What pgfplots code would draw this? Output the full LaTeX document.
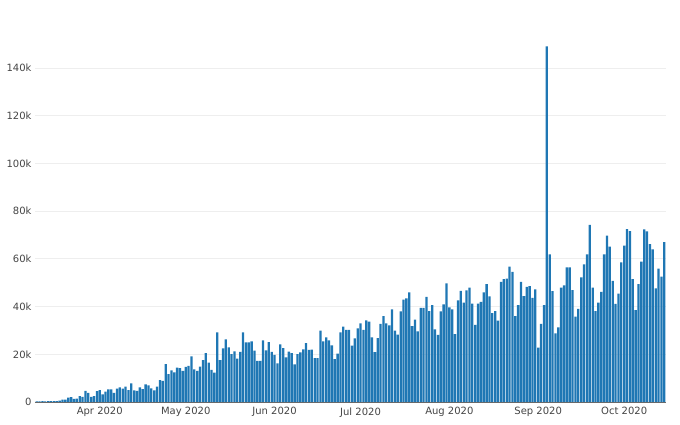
\documentclass[border=0pt]{standalone}
\usepackage{fontspec}
\setmainfont{DejaVu Sans}
\usepackage{pgfplots}
\pgfplotsset{compat=1.18}
\usepackage{pgfplotstable}

\definecolor{barblue}{HTML}{1F77B4}
\definecolor{gridgray}{HTML}{EEEEEE}
\definecolor{ticktext}{HTML}{444444}

% daily values in thousands, x = days after 1 Apr 2020
\pgfplotstableread{
day val
-22 0.3
-21 0.3
-20 0.4
-19 0.3
-18 0.4
-17 0.4
-16 0.4
-15 0.4
-14 0.6
-13 1.0
-12 1.0
-11 1.8
-10 2.0
-9 1.3
-8 1.4
-7 2.5
-6 2.2
-5 4.7
-4 3.8
-3 2.1
-2 2.5
-1 4.6
0 5.0
1 3.2
2 4.3
3 5.3
4 5.3
5 3.8
6 5.6
7 6.1
8 5.6
9 6.4
10 5.0
11 7.8
12 4.9
13 4.7
14 6.1
15 5.4
16 7.4
17 7.0
18 5.7
19 4.9
20 6.4
21 9.2
22 8.9
23 15.9
24 11.7
25 13.3
26 12.4
27 14.4
28 14.2
29 13.0
30 14.7
31 15.1
32 19.1
33 13.7
34 13.0
35 14.8
36 17.6
37 20.5
38 16.5
39 13.5
40 12.3
41 29.2
42 17.6
43 22.5
44 26.3
45 22.9
46 20.1
47 21.2
48 18.2
49 21.0
50 29.2
51 25.0
52 25.0
53 25.4
54 21.5
55 17.2
56 17.2
57 25.8
58 21.6
59 25.1
60 21.0
61 19.8
62 16.2
63 24.2
64 22.6
65 18.7
66 21.1
67 20.5
68 15.8
69 20.1
70 20.8
71 22.1
72 24.7
73 21.8
74 21.9
75 18.4
76 18.4
77 29.9
78 25.4
79 27.1
80 25.8
81 23.7
82 18.0
83 20.3
84 29.2
85 31.6
86 30.2
87 30.2
88 23.6
89 26.7
90 30.9
91 33.0
92 30.2
93 34.2
94 33.7
95 27.1
96 20.9
97 26.8
98 32.7
99 36.0
100 33.0
101 32.1
102 38.8
103 29.9
104 28.2
105 38.0
106 42.9
107 43.4
108 45.9
109 31.8
110 34.5
111 29.6
112 39.5
113 39.5
114 44.1
115 38.1
116 40.6
117 30.4
118 28.1
119 38.0
120 40.9
121 49.7
122 39.7
123 38.8
124 28.5
125 42.6
126 46.6
127 41.6
128 46.8
129 47.9
130 41.2
131 32.3
132 41.2
133 42.0
134 45.9
135 49.4
136 44.3
137 37.2
138 38.1
139 34.1
140 50.3
141 51.5
142 51.7
143 56.7
144 54.5
145 36.0
146 40.6
147 50.3
148 44.4
149 48.2
150 48.6
151 43.6
152 47.2
153 22.8
154 32.7
155 40.6
156 149.0
157 61.9
158 46.5
159 28.8
160 31.3
161 47.9
162 48.9
163 56.4
164 56.4
165 46.9
166 35.8
167 39.0
168 52.2
169 57.7
170 61.9
171 74.2
172 47.9
173 38.1
174 41.6
175 46.2
176 61.9
177 69.7
178 65.1
179 50.8
180 41.1
181 45.4
182 58.5
183 65.5
184 72.5
185 71.6
186 51.5
187 38.5
188 49.4
189 58.8
190 72.3
191 71.5
192 66.2
193 64.0
194 47.6
195 55.9
196 52.5
197 67.0
}\daily

\begin{document}
\begin{tikzpicture}[x=1pt,y=1pt]
\useasboundingbox (0,0) rectangle (680,424);
\begin{axis}[
    at={(35pt,22pt)}, anchor=south west,
    scale only axis,
    width=631pt, height=374.6pt,
    xmin=-22.6, xmax=197.6,
    ymin=0, ymax=157,
    axis line style={draw=none},
    major tick length=0pt,
    ymajorgrids,
    grid style={gridgray, line width=0.8pt},
    xtick={0,30,61,91,122,153,183},
    xticklabels={Apr 2020,May 2020,Jun 2020,Jul 2020,Aug 2020,Sep 2020,Oct 2020},
    ytick={0,20,40,60,80,100,120,140},
    yticklabels={0,20k,40k,60k,80k,100k,120k,140k},
    tick label style={font=\fontsize{10}{12}\selectfont, text=ticktext},
    xticklabel style={yshift=-2pt},
    clip=false,
]
\addplot[ybar, bar width=0.8, fill=barblue, draw=none] table[x=day, y=val] {\daily};
\draw[ticktext!80, line width=0.9pt] (axis cs:-22.6,0) -- (axis cs:197.6,0);
\end{axis}
\end{tikzpicture}
\end{document}
